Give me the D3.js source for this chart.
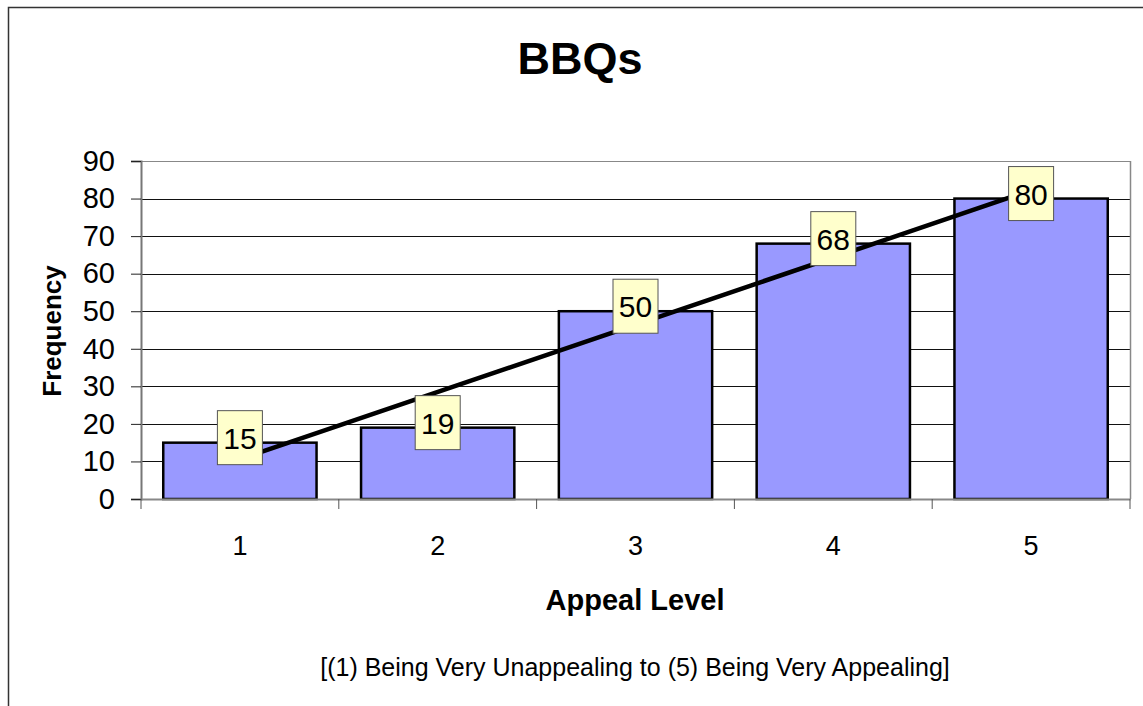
<!DOCTYPE html>
<html>
<head>
<meta charset="utf-8">
<script src="https://cdn.jsdelivr.net/npm/d3@7"></script>
<style>
  html, body { margin: 0; padding: 0; background: #fff; }
  svg { display: block; font-family: Arial, "Liberation Sans", sans-serif; }
</style>
</head>
<body>
<svg id="chart" width="1143" height="706"></svg>
<script>
const categories = ["1", "2", "3", "4", "5"];
const values = [15, 19, 50, 68, 80];
const yTicks = [0, 10, 20, 30, 40, 50, 60, 70, 80, 90];
const title = "BBQs";
const xTitle = "Appeal Level";
const yTitle = "Frequency";
const note = "[(1) Being Very Unappealing to (5) Being Very Appealing]";

const FONT = "Arial, 'Liberation Sans', sans-serif";
const svg = d3.select("#chart");
const W = 1143, H = 706;
const plot = { left: 141, right: 1130, top: 161, bottom: 499 };

// outer chart frame
svg.append("rect")
  .attr("x", 8.5).attr("y", 7.5)
  .attr("width", W + 20).attr("height", H + 20)
  .attr("fill", "#fff").attr("stroke", "#333").attr("stroke-width", 1.5);

const x = d3.scaleBand().domain(categories).range([plot.left, plot.right])
  .paddingInner(0.225).paddingOuter(0.1125);
const xOuter = d3.scaleBand().domain(categories).range([plot.left, plot.right]);
const y = d3.scaleLinear().domain([0, 90]).range([plot.bottom, plot.top]);

// gridlines
svg.append("g").selectAll("line").data(yTicks.filter(t => t > 0)).join("line")
  .attr("x1", plot.left).attr("x2", plot.right)
  .attr("y1", d => Math.round(y(d)) + 0.5).attr("y2", d => Math.round(y(d)) + 0.5)
  .attr("stroke", d => d === 90 ? "#888" : "#111").attr("stroke-width", 1);

// right border of plot
svg.append("line")
  .attr("x1", plot.right + 0.5).attr("x2", plot.right + 0.5)
  .attr("y1", plot.top).attr("y2", plot.bottom)
  .attr("stroke", "#888").attr("stroke-width", 1.5);

// bars
svg.append("g").selectAll("rect").data(values).join("rect")
  .attr("x", (d, i) => x(categories[i]))
  .attr("y", d => y(d))
  .attr("width", x.bandwidth())
  .attr("height", d => y(0) - y(d))
  .attr("fill", "#9999FF").attr("stroke", "#000").attr("stroke-width", 2.5);

// y axis
const yAxis = d3.axisLeft(y).tickValues(yTicks).tickSize(10).tickPadding(16);
const gy = svg.append("g").attr("transform", `translate(${plot.left},0)`).call(yAxis);
gy.attr("font-size", null).attr("font-family", null);
gy.select(".domain").attr("stroke", "#777").attr("stroke-width", 2);
gy.selectAll(".tick line").attr("stroke", "#222");
gy.selectAll(".tick text").style("font-size", "29px").attr("fill", "#000")
  .style("font-family", FONT);

// x axis
const xAxis = d3.axisBottom(xOuter).tickSize(0).tickPadding(37);
const gx = svg.append("g").attr("transform", `translate(0,${plot.bottom})`).call(xAxis);
gx.attr("font-size", null).attr("font-family", null);
gx.select(".domain").attr("stroke", "#888").attr("stroke-width", 2);
gx.selectAll(".tick text").style("font-size", "27px").attr("fill", "#000")
  .style("font-family", FONT);
// category separators
const seps = [plot.left].concat(categories.map(d => xOuter(d) + xOuter.bandwidth()));
svg.append("g").selectAll("line").data(seps).join("line")
  .attr("x1", d => d).attr("x2", d => d)
  .attr("y1", plot.bottom).attr("y2", plot.bottom + 10)
  .attr("stroke", "#555").attr("stroke-width", 1);

// linear trendline (least squares on data)
const xs = values.map((d, i) => i + 1);
const mx = d3.mean(xs), my = d3.mean(values);
const slope = d3.sum(xs.map((xv, i) => (xv - mx) * (values[i] - my))) /
              d3.sum(xs.map(xv => (xv - mx) ** 2));
const intercept = my - slope * mx;
const center = c => x(c) + x.bandwidth() / 2;
svg.append("line")
  .attr("x1", center(categories[0])).attr("y1", y(intercept + slope * 1))
  .attr("x2", center(categories[4])).attr("y2", y(intercept + slope * 5))
  .attr("stroke", "#000").attr("stroke-width", 4.5).attr("stroke-linecap", "round");

// data labels
const lbl = svg.append("g").selectAll("g").data(values).join("g")
  .attr("transform", (d, i) => `translate(${center(categories[i])},${y(d) - 5})`);
lbl.append("rect")
  .attr("x", -22.5).attr("y", -27).attr("width", 45).attr("height", 54)
  .attr("fill", "#FFFFCC").attr("stroke", "#555").attr("stroke-width", 1);
lbl.append("text")
  .attr("text-anchor", "middle").attr("y", 11)
  .style("font-size", "30px").attr("fill", "#000")
  .text(d => d);

// titles
svg.append("text").attr("x", 580).attr("y", 74).attr("text-anchor", "middle")
  .style("font-size", "45px").attr("font-weight", "bold").text(title);
svg.append("text").attr("x", 635).attr("y", 610).attr("text-anchor", "middle")
  .style("font-size", "29px").attr("font-weight", "bold").text(xTitle);
svg.append("text").attr("transform", "translate(61,331) rotate(-90)")
  .attr("text-anchor", "middle").style("font-size", "26px").attr("font-weight", "bold").text(yTitle);
svg.append("text").attr("x", 635).attr("y", 676).attr("text-anchor", "middle")
  .style("font-size", "25px").text(note);
</script>
</body>
</html>
